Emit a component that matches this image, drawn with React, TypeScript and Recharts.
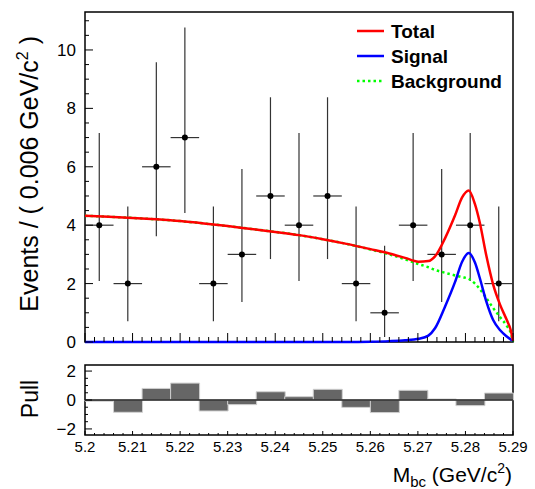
import React from 'react'
import { ComposedChart, Line, Scatter, ErrorBar, Bar, XAxis, YAxis, ReferenceArea, ReferenceLine } from 'recharts'

const FONT = '"Liberation Sans", Arial, Helvetica, sans-serif'

// binned data (bin width 0.006 GeV/c^2)
const binCenters = [5.203, 5.209, 5.215, 5.221, 5.227, 5.233, 5.239, 5.245, 5.251, 5.257, 5.263, 5.269, 5.275, 5.281, 5.287]
const counts = [4, 2, 6, 7, 2, 3, 5, 4, 5, 2, 1, 4, 3, 4, 2]
const errLow = [1.91, 1.29, 2.38, 2.58, 1.29, 1.63, 2.16, 1.91, 2.16, 1.29, 0.83, 1.91, 1.63, 1.91, 1.29]
const errHigh = [3.16, 2.64, 3.58, 3.77, 2.64, 2.92, 3.38, 3.16, 3.38, 2.64, 2.3, 3.16, 2.92, 3.16, 2.64]
const halfBin = 0.003
const pulls = [-0.08, -0.85, 0.8, 1.17, -0.76, -0.32, 0.57, 0.23, 0.74, -0.51, -0.87, 0.67, 0.07, -0.39, 0.48]

// fit curves
const curveX = [5.2, 5.205, 5.21, 5.215, 5.22, 5.225, 5.23, 5.235, 5.24, 5.245, 5.25, 5.255, 5.26, 5.264, 5.2673, 5.2701, 5.2722, 5.2736, 5.2757, 5.2778, 5.2793, 5.2807, 5.282, 5.283, 5.2844, 5.2858, 5.2873, 5.2887, 5.2895, 5.29]
const totalY = [4.32, 4.29, 4.25, 4.2, 4.14, 4.06, 3.97, 3.87, 3.77, 3.66, 3.52, 3.36, 3.18, 3.03, 2.88, 2.75, 2.77, 2.93, 3.55, 4.33, 4.95, 5.19, 4.72, 4.1, 2.95, 1.98, 1.27, 0.75, 0.42, 0.04]
const signalY = [0, 0, 0, 0, 0, 0, 0, 0, 0, 0, 0, 0, 0.01, 0.03, 0.06, 0.11, 0.22, 0.47, 1.21, 2.05, 2.75, 3.05, 2.72, 2.2, 1.38, 0.76, 0.4, 0.19, 0.09, 0.04]
const backgroundY = [4.32, 4.29, 4.25, 4.2, 4.14, 4.06, 3.97, 3.87, 3.77, 3.66, 3.52, 3.36, 3.17, 3.0, 2.83, 2.67, 2.56, 2.47, 2.37, 2.28, 2.22, 2.16, 2.0, 1.82, 1.5, 1.17, 0.85, 0.55, 0.32, 0]

const xMajor = [5.2, 5.21, 5.22, 5.23, 5.24, 5.25, 5.26, 5.27, 5.28, 5.29]
const yMajorTop = [0, 2, 4, 6, 8, 10]
const yMajorPull = [-2, 0, 2]

const X_MIN = 5.2
const X_MAX = 5.29
const TOP_MAX = 11.3
const PULL_LIM = 2.42

const xTicks = Array.from({ length: 46 }, (_, i) => +(X_MIN + i * 0.002).toFixed(3))
const yTicksTop = Array.from({ length: 23 }, (_, i) => i * 0.5)
const yTicksPull = Array.from({ length: 9 }, (_, i) => -2 + i * 0.5)

const points = binCenters.map((x, i) => ({ x, y: counts[i], ey: [errLow[i], errHigh[i]], ex: halfBin }))
const curve = curveX.map((x, i) => ({ x, total: totalY[i], signal: signalY[i], bkg: backgroundY[i] }))
const pullData = binCenters.map((x, i) => ({ x, pull: pulls[i] }))

const near = (list: number[], v: number) => list.some((m) => Math.abs(m - v) < 1e-6)
const fmt = (v: number) => (v < 0 ? '\u2212' + String(-v) : String(v))

const XTick = ({ x, y, payload, big, small, labels }: any) => {
  const major = near(xMajor, payload.value)
  return (
    <g>
      <line x1={x} x2={x} y1={y} y2={y - (major ? big : small)} stroke="#000" strokeWidth={1} />
      {labels && major && (
        <text x={x} y={y + 17} textAnchor="middle" fontSize={15} fontFamily={FONT} fill="#000">
          {String(+payload.value.toFixed(2))}
        </text>
      )}
    </g>
  )
}

const YTick = ({ x, y, payload, majors, big, small, size }: any) => {
  const major = near(majors, payload.value)
  return (
    <g>
      <line x1={x} x2={x + (major ? big : small)} y1={y} y2={y} stroke="#000" strokeWidth={1} />
      {major && (
        <text x={x - 9} y={y + size * 0.36} textAnchor="end" fontSize={size} fontFamily={FONT} fill="#000">
          {fmt(payload.value)}
        </text>
      )}
    </g>
  )
}

const Dot = (p: any) => <circle cx={p.cx} cy={p.cy} r={3} fill="#000" />

export default function App() {
  return (
    <div style={{ position: 'absolute', left: 0, top: 0, width: 535, height: 489, background: '#fff' }}>
      <div style={{ position: 'absolute', left: 0, top: 0 }}>
        <ComposedChart width={535} height={360} data={curve} margin={{ top: 12, right: 22, bottom: 17, left: 84 }}>
          <XAxis
            dataKey="x"
            type="number"
            domain={[X_MIN, X_MAX]}
            ticks={xTicks}
            interval={0}
            height={1}
            axisLine={false}
            tickLine={false}
            tickSize={0}
            tickMargin={0}
            tick={(p: any) => <XTick {...p} big={9} small={5} labels={false} />}
          />
          <YAxis
            type="number"
            domain={[0, TOP_MAX]}
            ticks={yTicksTop}
            interval={0}
            width={1}
            axisLine={false}
            tickLine={false}
            tickSize={0}
            tickMargin={0}
            tick={(p: any) => <YTick {...p} majors={yMajorTop} big={8} small={4} size={17} />}
          />
          <ReferenceArea x1={X_MIN} x2={X_MAX} y1={0} y2={TOP_MAX} fill="none" stroke="#000" strokeWidth={1.5} />
          <Scatter data={points} dataKey="y" shape={Dot} isAnimationActive={false}>
            <ErrorBar dataKey="ey" direction="y" width={0} stroke="#333" strokeWidth={1.2} />
            <ErrorBar dataKey="ex" direction="x" width={0} stroke="#333" strokeWidth={1.2} />
          </Scatter>
          <Line dataKey="bkg" type="monotone" stroke="#00ff00" strokeWidth={2.5} strokeDasharray="2.5 3" dot={false} isAnimationActive={false} />
          <Line dataKey="signal" type="monotone" stroke="#0000ff" strokeWidth={2.5} dot={false} isAnimationActive={false} />
          <Line dataKey="total" type="monotone" stroke="#ff0000" strokeWidth={2.5} dot={false} isAnimationActive={false} />
        </ComposedChart>
      </div>
      <div style={{ position: 'absolute', left: 0, top: 350 }}>
        <ComposedChart width={535} height={139} data={pullData} margin={{ top: 15, right: 22, bottom: 53, left: 84 }} barCategoryGap={0} barGap={0}>
          <XAxis
            dataKey="x"
            type="number"
            domain={[X_MIN, X_MAX]}
            ticks={xTicks}
            interval={0}
            height={1}
            axisLine={false}
            tickLine={false}
            tickSize={0}
            tickMargin={0}
            tick={(p: any) => <XTick {...p} big={4} small={2} labels={true} />}
          />
          <YAxis
            type="number"
            domain={[-PULL_LIM, PULL_LIM]}
            ticks={yTicksPull}
            interval={0}
            width={1}
            axisLine={false}
            tickLine={false}
            tickSize={0}
            tickMargin={0}
            tick={(p: any) => <YTick {...p} majors={yMajorPull} big={7} small={3} size={17} />}
          />
          <Bar dataKey="pull" fill="#666666" stroke="#d0d0d0" strokeWidth={1} isAnimationActive={false} />
          <ReferenceLine y={0} stroke="#222" strokeWidth={1.5} />
          <ReferenceArea x1={X_MIN} x2={X_MAX} y1={-PULL_LIM} y2={PULL_LIM} fill="none" stroke="#000" strokeWidth={1.5} />
        </ComposedChart>
      </div>
      <svg width={535} height={489} style={{ position: 'absolute', left: 0, top: 0, pointerEvents: 'none' }}>
        <text transform="translate(38,36) rotate(-90)" textAnchor="end" fontSize={25} fontFamily={FONT} fill="#000">
          Events / ( 0.006 GeV/c<tspan fontSize={16} dy={-10}>2</tspan>
          <tspan dy={10}> )</tspan>
        </text>
        <text transform="translate(38,399) rotate(-90)" textAnchor="middle" fontSize={23} fontFamily={FONT} fill="#000">
          Pull
        </text>
        <text x={512} y={482} textAnchor="end" fontSize={21} fontFamily={FONT} fill="#000">
          M<tspan fontSize={15} dy={5}>bc</tspan>
          <tspan dy={-5}> (GeV/c</tspan>
          <tspan fontSize={14} dy={-9}>2</tspan>
          <tspan dy={9}>)</tspan>
        </text>
        <g fontFamily={FONT} fontSize={19} fontWeight="bold" fill="#000">
          <line x1={357} x2={384} y1={31} y2={31} stroke="#ff0000" strokeWidth={2.5} />
          <text x={391} y={38}>Total</text>
          <line x1={357} x2={384} y1={56} y2={56} stroke="#0000ff" strokeWidth={2.5} />
          <text x={391} y={63}>Signal</text>
          <line x1={357} x2={384} y1={81} y2={81} stroke="#00ff00" strokeWidth={2.5} strokeDasharray="2.5 3" />
          <text x={391} y={88}>Background</text>
        </g>
      </svg>
    </div>
  )
}
